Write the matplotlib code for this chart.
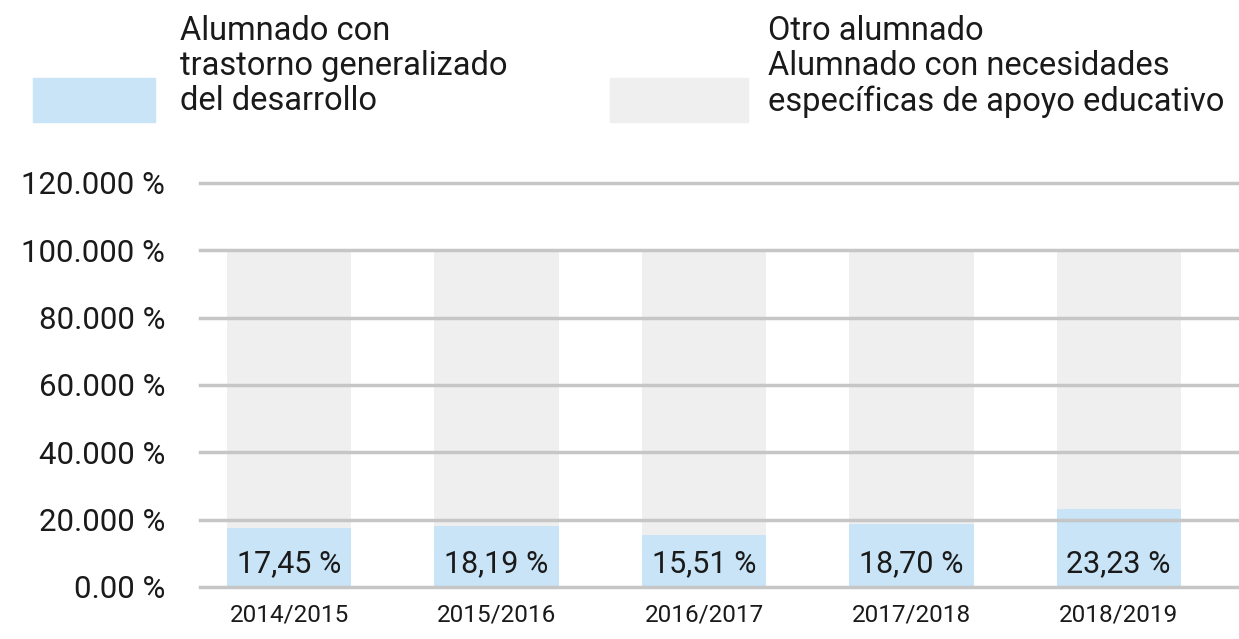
import matplotlib
matplotlib.use("Agg")
import matplotlib.pyplot as plt
from matplotlib.patches import Rectangle

years = ["2014/2015", "2015/2016", "2016/2017", "2017/2018", "2018/2019"]
tgd = [17.45, 18.19, 15.51, 18.70, 23.23]
total = [100, 100, 100, 100, 100]
yticks = [0, 20, 40, 60, 80, 100, 120]
ytick_labels = ["0.00 %", "20.000 %", "40.000 %", "60.000 %", "80.000 %", "100.000 %", "120.000 %"]
legend_labels = ["Alumnado con\ntrastorno generalizado\ndel desarrollo",
                 "Otro alumnado\nAlumnado con necesidades\nespecíficas de apoyo educativo"]

plt.rcParams['font.family'] = ['Roboto', 'DejaVu Sans']

W, H = 1239, 639
fig = plt.figure(figsize=(W / 100, H / 100), dpi=100)
y0px, y120px = 587, 183
ax = fig.add_axes([200 / W, (H - y0px) / H, 1 - 200 / W, (y0px - y120px) / H])
ax.set_xlim(-0.43, 4.58)
ax.set_ylim(0, 120)

blue = "#c8e4f6"
gray = "#efefef"
x = list(range(len(years)))
other = [t - v for t, v in zip(total, tgd)]
ax.bar(x, tgd, width=0.6, color=blue, zorder=1)
ax.bar(x, other, bottom=tgd, width=0.6, color=gray, zorder=1)

for yt in yticks:
    ax.axhline(yt, color="#c6c6c6", lw=2.5, zorder=2, clip_on=False)

for xi, v in zip(x, tgd):
    ax.text(xi, 7.0, f"{v:.2f}".replace(".", ",") + " %", ha="center", va="center",
            fontsize=22, color="#1a1a1a", zorder=3)

ax.set_yticks(yticks)
ax.set_yticklabels(ytick_labels, fontsize=22.5, color="#1a1a1a")
ax.set_xticks(x)
ax.set_xticklabels(years, fontsize=17.5, color="#1a1a1a")
ax.tick_params(axis="both", length=0)
ax.tick_params(axis="y", pad=25)
ax.tick_params(axis="x", pad=12)
for s in ax.spines.values():
    s.set_visible(False)

# legend
fig.patches.append(Rectangle((33 / W, (H - 122) / H), 122 / W, 44 / H, transform=fig.transFigure,
                             color=blue, zorder=0))
fig.patches.append(Rectangle((610 / W, (H - 122) / H), 138 / W, 44 / H, transform=fig.transFigure,
                             color=gray, zorder=0))
fig.text(180 / W, (H - 15) / H, legend_labels[0], ha="left", va="top", fontsize=23.5,
         color="#1a1a1a", linespacing=1.12)
fig.text(768 / W, (H - 15) / H, legend_labels[1], ha="left", va="top", fontsize=23.5,
         color="#1a1a1a", linespacing=1.12)

fig.savefig("out.png", dpi=100)
